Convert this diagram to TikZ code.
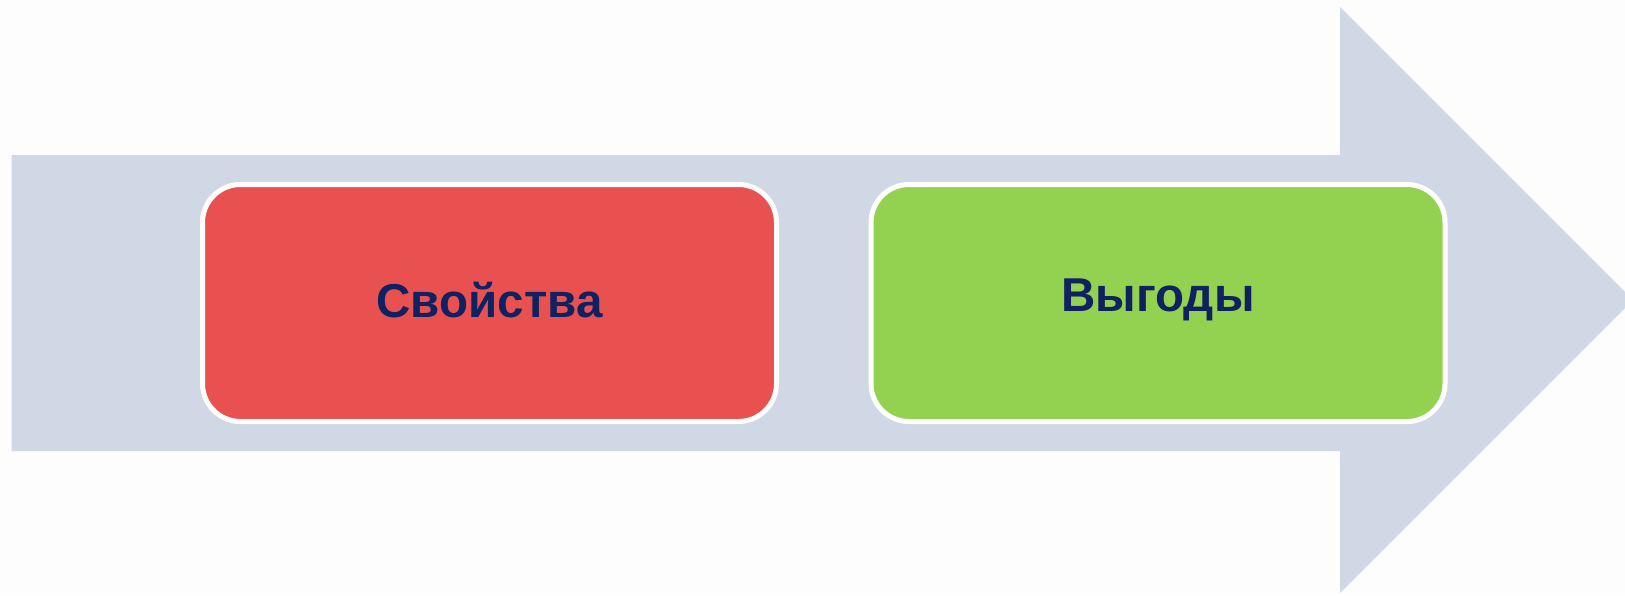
\documentclass[tikz,border=0pt]{standalone}
\usepackage{fontspec}
\setmainfont{Liberation Sans}
\definecolor{bgc}{HTML}{FDFDFD}
\definecolor{arrowc}{HTML}{D0D8E6}
\definecolor{redc}{HTML}{E95151}
\definecolor{greenc}{HTML}{93D251}
\definecolor{textc}{HTML}{0E2160}
\tikzset{
  stagebox/.style={draw=white, line width=5pt, rounded corners=38pt, minimum width=574pt, minimum height=237pt, inner sep=0pt},
  stagetext/.style={text=textc, font=\bfseries\fontsize{47.5}{52}\selectfont}
}
\begin{document}
\begin{tikzpicture}[x=1pt,y=-1pt]
\useasboundingbox (0,0) rectangle (1625,595);
\fill[bgc] (0,0) rectangle (1625,595);
\clip (0,0) rectangle (1625,595);
\fill[arrowc] (11.5,155) -- (1340,155) -- (1340,7) -- (1633,300) -- (1340,593) -- (1340,451) -- (11.5,451) -- cycle;
\node[stagebox, fill=redc] (props) at (489.5,303) {};
\node[stagetext] at (489.5,300) {Свойства};
\node[stagebox, fill=greenc] (gains) at (1158,303) {};
\node[stagetext] at (1158,300) {Выгоды};
\end{tikzpicture}
\end{document}
